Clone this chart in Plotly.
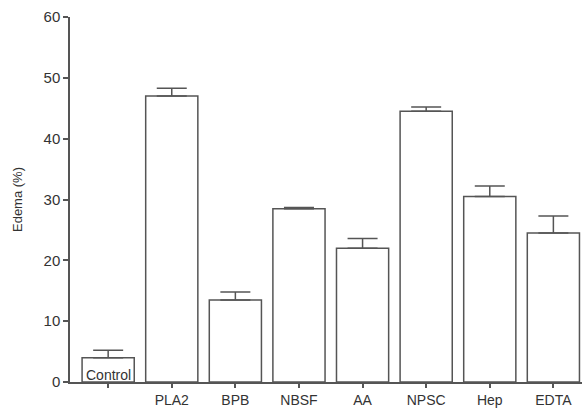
import plotly.graph_objects as go

categories = ["Control", "PLA2", "BPB", "NBSF", "AA", "NPSC", "Hep", "EDTA"]
edema = [4.0, 47.0, 13.5, 28.5, 22.0, 44.5, 30.5, 24.5]
err_up = [1.2, 1.3, 1.3, 0.2, 1.6, 0.7, 1.7, 2.8]
y_ticks = [0, 10, 20, 30, 40, 50, 60]

line_col = "#555555"
text_col = "#333333"
x_idx = list(range(len(categories)))

fig = go.Figure()
fig.add_trace(go.Bar(
    x=x_idx, y=edema, width=0.82,
    marker=dict(color="white", line=dict(color=line_col, width=1.5)),
    error_y=dict(type="data", symmetric=False, array=err_up,
                 arrayminus=[0] * len(err_up),
                 color=line_col, thickness=1.5, width=15),
    hoverinfo="skip",
))

ticktext = ["" if c == "Control" else c for c in categories]
fig.add_annotation(x=0, y=1.2, xref="x", yref="y", text="Control",
                   showarrow=False, font=dict(family="Arial", size=14, color=text_col))

fig.update_layout(
    width=586, height=409,
    margin=dict(l=70, r=4, t=17, b=27),
    paper_bgcolor="white", plot_bgcolor="white",
    showlegend=False,
    font=dict(family="Arial", color=text_col),
    xaxis=dict(range=[-0.6, 7.45], tickmode="array", tickvals=x_idx, ticktext=ticktext,
               showline=True, linecolor=line_col, linewidth=1.5, automargin=False,
               ticks="outside", ticklen=4, tickwidth=1.5, tickcolor=line_col,
               showgrid=False, zeroline=False, tickfont=dict(size=14)),
    yaxis=dict(range=[0, 60], tickmode="array", tickvals=y_ticks,
               showline=True, linecolor=line_col, linewidth=1.5, automargin=False,
               ticks="outside", ticklen=5, tickwidth=1.5, tickcolor=line_col,
               showgrid=False, zeroline=False, tickfont=dict(size=15),
               title=dict(text="Edema (%)", font=dict(size=13), standoff=18)),
)

fig.write_html("out.html", config={"displayModeBar": False},
               post_script="document.body.style.margin='0';document.body.style.overflow='hidden';")
